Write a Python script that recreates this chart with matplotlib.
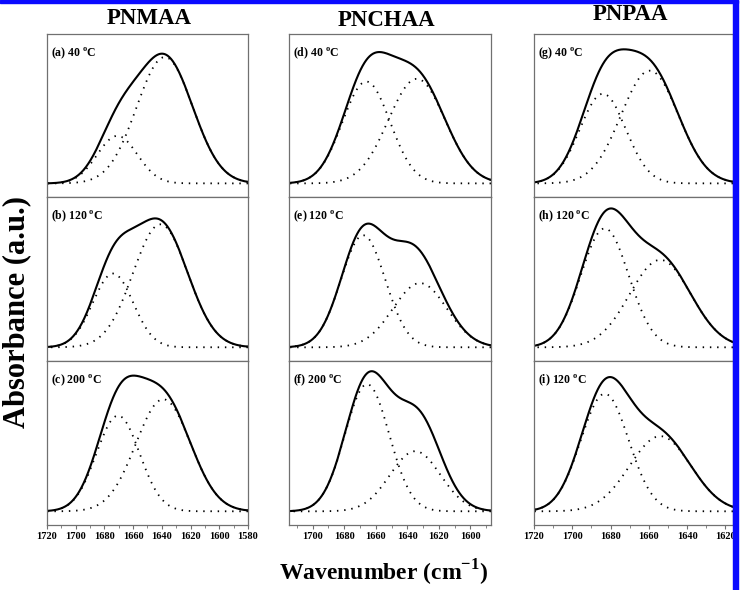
import numpy as np
import matplotlib
matplotlib.use("Agg")
import matplotlib.pyplot as plt
from matplotlib.patches import Rectangle

plt.rcParams["font.family"] = ["Liberation Serif", "DejaVu Serif"]
plt.rcParams["mathtext.fontset"] = "custom"
plt.rcParams["mathtext.rm"] = "Liberation Serif"
plt.rcParams["mathtext.bf"] = "Liberation Serif:bold"

# column titles and axis ranges
titles = ["PNMAA", "PNCHAA", "PNPAA"]
title_pos = [(149, 19), (386, 21), (630, 15)]
x_ranges = [(1720, 1580), (1715, 1587), (1720, 1616)]
x_ticks = [list(range(1720, 1579, -20)), list(range(1700, 1599, -20)), list(range(1720, 1619, -20))]

# panel labels (letter, temperature)
panel_letters = [["a", "b", "c"], ["d", "e", "f"], ["g", "h", "i"]]
panel_temps = [[40, 120, 200], [40, 120, 200], [40, 120, 120]]

# fitted bands: centre (cm-1), height, sigma (cm-1)
# band 1 = high-wavenumber component, band 2 = low-wavenumber component (both dotted)
band1_center = [[1671, 1674, 1670.5], [1666, 1668, 1665.5], [1684, 1683, 1683]]
band1_height = [[0.35, 0.54, 0.70], [0.75, 0.82, 0.93], [0.66, 0.87, 0.86]]
band1_sigma = [[14, 14, 15], [15, 14, 14], [12, 12.5, 12.5]]
band2_center = [[1638, 1641, 1639], [1634, 1632, 1635], [1659.5, 1654, 1654]]
band2_height = [[0.93, 0.90, 0.82], [0.77, 0.47, 0.44], [0.83, 0.64, 0.55]]
band2_sigma = [[19.5, 19, 19], [18, 17, 16], [15, 16, 16]]
# part of the measured spectrum not covered by the two fitted bands
resid_center = [[1650, 1650, 1650], [1650, 1639, 1632], [1670, 1670, 1670]]
resid_height = [[0.0, 0.0, 0.0], [0.0, 0.24, 0.25], [0.0, 0.0, 0.0]]
resid_sigma = [[10, 10, 10], [10, 13, 13], [10, 10, 10]]


def band(x, c, h, s):
    return h * np.exp(-(x - c) ** 2 / (2 * s ** 2))


fig = plt.figure(figsize=(7.42, 5.90), dpi=100)
W, H = 742, 590

col_left = [47, 289, 534]
col_right = [248, 491, 733]
row_top = [34, 197, 361]
row_bot = [197, 361, 525]

for ci in range(3):
    hi, lo = x_ranges[ci]
    x = np.linspace(lo, hi, 600)
    for ri in range(3):
        ax = fig.add_axes([col_left[ci] / W, 1 - row_bot[ri] / H,
                           (col_right[ci] - col_left[ci]) / W,
                           (row_bot[ri] - row_top[ri]) / H])
        b1 = band(x, band1_center[ci][ri], band1_height[ci][ri], band1_sigma[ci][ri])
        b2 = band(x, band2_center[ci][ri], band2_height[ci][ri], band2_sigma[ci][ri])
        r = band(x, resid_center[ci][ri], resid_height[ci][ri], resid_sigma[ci][ri])
        ax.plot(x, b1 + b2 + r, color="black", lw=1.5)
        ax.plot(x, b1, color="black", lw=1.3, linestyle=(0, (0.8, 3.2)))
        ax.plot(x, b2, color="black", lw=1.3, linestyle=(0, (0.8, 3.2)))
        ax.set_yticks([])
        for sp in ax.spines.values():
            sp.set_color("#707070")
            sp.set_linewidth(0.9)
        ax.text(0.02, 0.93, "(%s) %d $^{\\mathbf{o}}$C" % (panel_letters[ci][ri], panel_temps[ci][ri]),
                transform=ax.transAxes, fontsize=8.5, fontweight="bold", va="top", ha="left")
        if ri == 2:
            ax.set_xticks(x_ticks[ci])
            minor = [v for v in range(1800, 1500, -10) if lo <= v <= hi]
            ax.set_xticks(minor, minor=True)
            ax.tick_params(axis="x", which="major", direction="out", length=3, width=0.8,
                           color="#707070", labelsize=7.5, pad=2)
            ax.tick_params(axis="x", which="minor", direction="out", length=2, width=0.6,
                           color="#707070")
            for lab in ax.get_xticklabels():
                lab.set_fontweight("bold")
        else:
            ax.set_xticks([])
        ax.set_xlim(hi, lo)
        ax.set_ylim(-0.1, 1.1)

for t, (px, py) in zip(titles, title_pos):
    fig.text(px / W, 1 - py / H, t, fontsize=16.5, fontweight="bold", ha="center", va="center")

fig.text(17 / W, 1 - 312 / H, "Absorbance (a.u.)", rotation=90, fontsize=22, fontweight="bold",
         ha="center", va="center")
fig.text(384 / W, 1 - 573 / H, "Wavenumber (cm$^{\\mathbf{-1}}$)", fontsize=17, fontweight="bold",
         ha="center", va="center")

# blue frame along the top and right edges
fig.patches.append(Rectangle((0, 1 - 3 / H), 738 / W, 3 / H, transform=fig.transFigure,
                             color="#0a0aff", zorder=10))
fig.patches.append(Rectangle((733 / W, 0), 5 / W, 1, transform=fig.transFigure,
                             color="#0a0aff", zorder=10))

fig.savefig("out.png", dpi=100)
